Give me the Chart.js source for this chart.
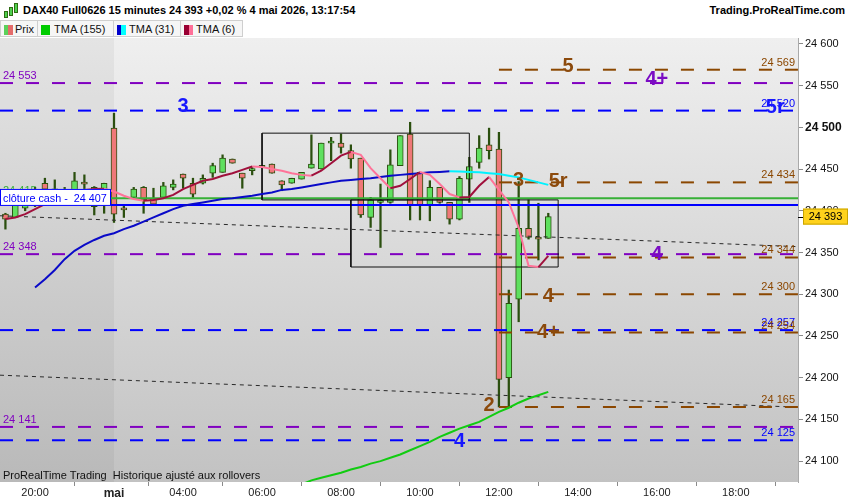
<!DOCTYPE html>
<html>
<head>
<meta charset="utf-8">
<script src="https://cdn.jsdelivr.net/npm/chart.js@4.4.1/dist/chart.umd.min.js"></script>
<style>
  body { margin: 0; width: 850px; height: 500px; overflow: hidden; background: #fff; font-family: "Liberation Sans", Arial, sans-serif; }
  #hdr { position: absolute; left: 0; top: 0; width: 850px; height: 21px; background: #fff; }
  #hdr .ico { position: absolute; left: 3px; top: 2px; width: 16px; height: 17px; }
  #hdr .ico i { position: absolute; width: 2px; background: #4ed14e; border: 1px solid #2e6b12; }
  #ttl { position: absolute; left: 23px; top: 4px; font-weight: bold; font-size: 11px; color: #000; white-space: pre; }
  #site { position: absolute; right: 5px; top: 4px; font-weight: bold; font-size: 11px; color: #000; }
  #tabs { position: absolute; left: 0; top: 20px; width: 850px; height: 18px; }
  .tab { position: absolute; top: 0; height: 17px; background: #f6f6f6; border: 1px solid #cfcfcf; border-left: none; box-sizing: border-box; font-size: 11px; color: #111; line-height: 16px; white-space: pre; }
  .tab .sw { position: absolute; left: 3px; top: 4px; width: 9px; height: 10px; }
  .tab span { position: absolute; top: 0; }
  #c { position: absolute; left: 0; top: 38px; }
</style>
</head>
<body>
<div id="hdr">
  <div class="ico">
    <i style="left:1px;top:9px;height:5px"></i>
    <i style="left:6px;top:5px;height:7px"></i>
    <i style="left:11px;top:1px;height:8px"></i>
  </div>
  <span id="ttl">DAX40 Full0626 15 minutes 24 393 +0,02 % 4 mai 2026, 13:17:54</span>
  <span id="site">Trading.ProRealTime.com</span>
</div>
<div id="tabs">
  <div class="tab" style="left:0;width:38px;border-left:1px solid #cfcfcf"><b class="sw" style="background:linear-gradient(90deg,#5bd05b 50%,#e46b6b 50%)"></b><span style="left:14px">Prix</span></div>
  <div class="tab" style="left:38px;width:76px"><b class="sw" style="background:#00cc00"></b><span style="left:16px">TMA (155)</span></div>
  <div class="tab" style="left:114px;width:67px"><b class="sw" style="background:linear-gradient(90deg,#0000cc 50%,#00ffff 50%)"></b><span style="left:15px">TMA (31)</span></div>
  <div class="tab" style="left:181px;width:62px"><b class="sw" style="background:linear-gradient(90deg,#990033 50%,#ff6f98 50%)"></b><span style="left:15px">TMA (6)</span></div>
</div>
<canvas id="c" width="850" height="462"></canvas>
<script>
// 15-minute bars: end of the previous session, then 4 May
const barTimes = [
  '19:15','19:30','19:45','20:00','20:15','20:30','20:45','21:00','21:15','21:30','21:45',
  '02:15','02:30','02:45','03:00','03:15','03:30','03:45','04:00','04:15','04:30','04:45',
  '05:00','05:15','05:30','05:45','06:00','06:15','06:30','06:45','07:00','07:15','07:30',
  '07:45','08:00','08:15','08:30','08:45','09:00','09:15','09:30','09:45','10:00','10:15',
  '10:30','10:45','11:00','11:15','11:30','11:45','12:00','12:15','12:30','12:45','13:00','13:15'
];
const prevSessionBars = 11;

const opens  = [24396,24392,24403,24410,24433,24426,24420,24425,24434,24428,24409,
  24499,24403,24416,24428,24415,24416,24428,24444,24433,24433,24445,24446,24462,24445,24448,
  24452,24456,24436,24433,24438,24451,24450,24481,24481,24472,24463,24392,24410,24410,24454,
  24492,24446,24407,24428,24410,24390,24438,24458,24479,24474,24200,24294,24379,24368,24367];
const highs  = [24397,24410,24416,24428,24439,24437,24428,24446,24443,24429,24433,
  24517,24406,24428,24429,24427,24434,24437,24444,24439,24443,24457,24467,24462,24445,24453,
  24454,24456,24436,24439,24446,24491,24481,24488,24492,24479,24463,24416,24432,24473,24490,
  24506,24446,24436,24428,24410,24441,24464,24490,24499,24494,24305,24435,24413,24409,24397];
const lows   = [24378,24392,24400,24405,24418,24416,24412,24418,24425,24395,24397,
  24386,24392,24415,24397,24408,24416,24425,24427,24416,24432,24440,24446,24457,24427,24443,
  24452,24445,24424,24433,24438,24451,24450,24460,24469,24451,24392,24380,24356,24409,24454,
  24389,24389,24388,24409,24384,24389,24410,24451,24462,24165,24166,24267,24366,24341,24367];
const closes = [24390,24407,24412,24420,24426,24424,24424,24436,24432,24405,24433,
  24396,24401,24426,24413,24408,24430,24432,24439,24420,24439,24454,24463,24457,24439,24448,
  24454,24445,24431,24439,24446,24456,24481,24481,24476,24462,24395,24413,24412,24455,24490,
  24407,24407,24428,24410,24390,24439,24453,24475,24472,24198,24289,24379,24368,24366,24393];

const tma6 = [24390,24392,24396,24402,24408,24414,24419,24422,24425,24426,24426.5,
  24423,24418,24414,24412,24413,24415,24419,24426,24431,24436,24438,24442,24445,24449,24453,
  24452.5,24450,24448,24445,24443,24442,24448,24457,24466,24470.5,24467,24451,24439,24427,24430,
  24438,24446.5,24443,24432,24420,24416,24416.5,24430,24440.5,24425,24410,24380,24334,24332.5,24346];
const tma31 = [null,null,null,24308,24318,24329,24342,24352,24359,24365,24370,
  24373,24378,24382,24387,24392,24397,24402,24406,24408,24410,24412,24414,24415,24416.5,24418,
  24420,24422,24425,24426,24428,24430,24432,24434,24436,24437,24438,24439,24440.5,24442,24443,
  24444,24445,24446,24446.5,24447.2,24447,24446.5,24446,24445,24444,24442,24440,24437,24434,24431];
const tma155 = [null,null,null,null,null,null,null,null,null,null,null,
  null,null,null,null,null,null,null,null,null,null,null,null,null,null,null,
  null,null,null,null,24072,24077,24080,24083,24086,24090,24093,24097,24100,24104,24108,
  24113,24118,24123,24129,24134,24139,24143,24147,24153,24159,24164,24170,24175,24179,24183];

// horizontal levels
const levelPurple = [24553, 24348, 24141];
const levelBlue = [24520, 24257, 24125];
const levelBrown = [24569, 24434, 24344, 24300, 24254, 24165];
const brownFromBar = 39;
const levelGreen = 24415;
const cashClose = 24407;
const lastPrice = 24393;

// dotted trend lines, price at the left and right edges
const trendUpper = [24394, 24357];
const trendLower = [24203, 24164.6];

// rectangles (bar index range, price range)
const boxAX = [15, 36], boxAY = [24413, 24493];
const boxBX = [24, 45], boxBY = [24332.6, 24413];

// big wave labels
const markText  = ['3', '5', '4+', '3', '5r', '5r', '4', '4', '4+', '2', '4'];
const markBar   = [7, 46, 55, 41, 45, 67, 55, 44, 44, 38, 35];
const markPrice = [24526, 24574, 24559, 24438, 24436, 24525, 24349, 24299, 24255, 24168, 24125];
const markKind  = ['blue', 'brown', 'purple', 'brown', 'brown', 'blue', 'purple', 'brown', 'brown', 'brown', 'blue'];

// axes
const xTickPos = [-8, 0, 7, 15, 23, 31, 39, 47, 55, 63];
const xTickText = ['20:00', 'mai', '04:00', '06:00', '08:00', '10:00', '12:00', '14:00', '16:00', '18:00'];
const yTickVals = [24100, 24150, 24200, 24250, 24300, 24350, 24400, 24450, 24500, 24550, 24600];
const xMin = -11.55, xMax = 69.3;
const yMin = 24075, yMax = 24607;

const col = { blue: '#0000ff', purple: '#8000c0', brown: '#8b4700', green: '#36b036' };
const markCol = { blue: '#1717ff', purple: '#7a0cc4', brown: '#8c4a0c' };
const FONT = '"Liberation Sans", Arial, sans-serif';
const fmt = v => String(Math.round(v)).replace(/\B(?=(\d{3})+(?!\d))/g, ' ');

const barX = barTimes.map((t, k) => k - prevSessionBars);
const pts = arr => barX.map((x, k) => ({ x, y: arr[k] }));
const candleEdge = '#2b4f0f';

function hLine(v, from, color, dash, width) {
  return {
    type: 'line', data: [{ x: from, y: v }, { x: xMax, y: v }],
    borderColor: color, borderWidth: width, borderDash: dash,
    pointRadius: 0, clip: 0, order: 4
  };
}
function rect(xs, ys) {
  return {
    type: 'line',
    data: [{ x: xs[0], y: ys[0] }, { x: xs[1], y: ys[0] }, { x: xs[1], y: ys[1] }, { x: xs[0], y: ys[1] }, { x: xs[0], y: ys[0] }],
    borderColor: '#111', borderWidth: 1, pointRadius: 0, clip: 0, order: 3
  };
}

const datasets = [
  {
    type: 'bar', data: barX.map((x, k) => ({ x, y: [lows[k], highs[k]] })),
    backgroundColor: candleEdge, barThickness: 1.6, grouped: false, order: 20
  },
  {
    type: 'bar', data: barX.map((x, k) => ({ x, y: [opens[k], closes[k]] })),
    backgroundColor: barX.map((x, k) => closes[k] >= opens[k] ? '#5fe05f' : '#ef7878'),
    borderColor: candleEdge, borderWidth: 1, borderSkipped: false,
    barThickness: 6, minBarLength: 2, grouped: false, order: 19
  }
];
levelPurple.forEach(v => datasets.push(hLine(v, xMin, col.purple, [13, 13], 2)));
levelBlue.forEach(v => datasets.push(hLine(v, xMin, col.blue, [13, 13], 2)));
levelBrown.forEach(v => datasets.push(hLine(v, brownFromBar, col.brown, [13, 13], 2)));
datasets.push(hLine(levelGreen, xMin, col.green, [], 2));
datasets.push(hLine(cashClose, xMin, col.blue, [], 2));
datasets.push({
  type: 'line', data: [{ x: xMin, y: trendUpper[0] }, { x: xMax, y: trendUpper[1] }],
  borderColor: '#2a2a2a', borderWidth: 1, borderDash: [4, 4], pointRadius: 0, clip: 0, order: 4
});
datasets.push({
  type: 'line', data: [{ x: xMin, y: trendLower[0] }, { x: xMax, y: trendLower[1] }],
  borderColor: '#2a2a2a', borderWidth: 1, borderDash: [4, 4], pointRadius: 0, clip: 0, order: 4
});
datasets.push(rect(boxAX, boxAY));
datasets.push(rect(boxBX, boxBY));
datasets.push({
  type: 'line', data: pts(tma155), borderColor: '#11cc11', borderWidth: 2,
  pointRadius: 0, clip: 0, order: 2
});
datasets.push({
  type: 'line', data: pts(tma31), borderColor: '#0a0ac8', borderWidth: 2,
  segment: { borderColor: c => c.p1.parsed.y < c.p0.parsed.y ? '#00f2ff' : '#0a0ac8' },
  pointRadius: 0, clip: 0, order: 1
});
datasets.push({
  type: 'line', data: pts(tma6), borderColor: '#a0103c', borderWidth: 2,
  segment: { borderColor: c => c.p1.parsed.y < c.p0.parsed.y ? '#ff7399' : '#a0103c' },
  pointRadius: 0, clip: 0, order: 0
});

const backdrop = {
  id: 'backdrop',
  beforeDraw(chart) {
    const { ctx, chartArea: a, scales } = chart;
    ctx.save();
    ctx.fillStyle = '#fff';
    ctx.fillRect(0, 0, chart.width, chart.height);
    const g = ctx.createLinearGradient(0, a.top, 0, a.bottom);
    g.addColorStop(0, '#efefef');
    g.addColorStop(1, '#c2c2c2');
    ctx.fillStyle = g;
    ctx.fillRect(a.left, a.top, a.right - a.left, a.bottom - a.top);
    ctx.fillStyle = 'rgba(0,0,0,0.045)';
    const xs = scales.x.getPixelForValue(0);
    ctx.fillRect(a.left, a.top, xs - a.left, a.bottom - a.top);
    ctx.restore();
  }
};

const overlay = {
  id: 'overlay',
  afterDatasetsDraw(chart) {
    const { ctx, chartArea: a, scales } = chart;
    const px = v => scales.x.getPixelForValue(v);
    const py = v => scales.y.getPixelForValue(v);
    ctx.save();
    ctx.font = '11px ' + FONT;
    ctx.textBaseline = 'alphabetic';
    // value labels on the levels
    ctx.textAlign = 'left';
    ctx.fillStyle = col.purple;
    levelPurple.forEach(v => ctx.fillText(fmt(v), a.left + 3, py(v) - 4));
    ctx.fillStyle = col.green;
    ctx.fillText(fmt(levelGreen), a.left + 3, py(levelGreen) - 4);
    ctx.textAlign = 'right';
    ctx.fillStyle = col.blue;
    levelBlue.forEach(v => ctx.fillText(fmt(v), a.right - 3, py(v) - 4));
    ctx.fillStyle = col.brown;
    levelBrown.forEach(v => ctx.fillText(fmt(v), a.right - 3, py(v) - 4));

    // cash close tag
    const yc = py(cashClose);
    const tag = 'clôture cash -  ' + fmt(cashClose);
    ctx.font = '12px ' + FONT;
    const tw = ctx.measureText(tag).width;
    if (tw > 104) ctx.font = (12 * 104 / tw).toFixed(2) + 'px ' + FONT;
    ctx.fillStyle = '#fff';
    ctx.fillRect(a.left, yc - 16, 111, 17);
    ctx.strokeStyle = col.blue;
    ctx.lineWidth = 1;
    ctx.strokeRect(a.left + 0.5, yc - 15.5, 110, 16);
    ctx.fillStyle = col.blue;
    ctx.textAlign = 'left';
    ctx.fillText(tag, a.left + 3, yc - 3);

    // wave labels
    ctx.font = 'bold 20px ' + FONT;
    ctx.textAlign = 'center';
    ctx.textBaseline = 'middle';
    markText.forEach((t, k) => {
      ctx.fillStyle = markCol[markKind[k]];
      ctx.fillText(t, px(markBar[k]), py(markPrice[k]) + 1);
    });

    // footer
    ctx.font = '11px ' + FONT;
    ctx.textAlign = 'left';
    ctx.textBaseline = 'alphabetic';
    ctx.fillStyle = '#111';
    ctx.fillText('ProRealTime Trading  Historique ajusté aux rollovers', a.left + 3, a.bottom - 3);
    ctx.restore();
  },
  afterDraw(chart) {
    const { ctx, chartArea: a, scales } = chart;
    const y = scales.y.getPixelForValue(lastPrice);
    ctx.save();
    ctx.strokeStyle = '#000';
    ctx.lineWidth = 1;
    ctx.beginPath();
    ctx.moveTo(a.right, Math.round(y) + 0.5);
    ctx.lineTo(a.right + 5, Math.round(y) + 0.5);
    ctx.stroke();
    ctx.fillStyle = '#ffd21c';
    ctx.fillRect(a.right + 5, y - 8, 45, 16);
    ctx.strokeStyle = '#c9a400';
    ctx.strokeRect(a.right + 5.5, y - 7.5, 44, 15);
    ctx.fillStyle = '#000';
    ctx.font = '11px ' + FONT;
    ctx.textAlign = 'center';
    ctx.textBaseline = 'middle';
    ctx.fillText(fmt(lastPrice), a.right + 27.5, y + 0.5);
    ctx.restore();
  }
};

new Chart(document.getElementById('c'), {
  type: 'bar',
  data: { datasets },
  options: {
    responsive: false,
    animation: false,
    events: [],
    layout: { padding: 0 },
    plugins: { legend: { display: false }, tooltip: { enabled: false } },
    scales: {
      x: {
        type: 'linear', min: xMin, max: xMax, offset: false,
        grid: { drawOnChartArea: false, drawTicks: true, tickLength: 4, color: '#8a8a8a' },
        border: { display: false },
        ticks: {
          autoSkip: false, maxRotation: 0, padding: 0, color: '#222',
          font: c => (c.tick && c.tick.value === 0) ? { family: FONT, size: 12, weight: 'bold' } : { family: FONT, size: 11 },
          callback: (v, i) => xTickText[i]
        },
        afterBuildTicks: s => { s.ticks = xTickPos.map(v => ({ value: v })); },
        afterFit: s => { s.height = 18; s.paddingLeft = 0; s.paddingRight = 0; }
      },
      y: {
        type: 'linear', position: 'right', min: yMin, max: yMax,
        grid: { drawOnChartArea: false, drawTicks: true, tickLength: 5, color: '#8a8a8a' },
        border: { display: true, color: '#a9a9a9' },
        ticks: {
          padding: 2, color: '#111',
          font: c => (c.tick && c.tick.value === 24500) ? { family: FONT, size: 12, weight: 'bold' } : { family: FONT, size: 11 },
          callback: v => fmt(v)
        },
        afterBuildTicks: s => { s.ticks = yTickVals.map(v => ({ value: v })); },
        afterFit: s => { s.width = 52; s.paddingTop = 0; s.paddingBottom = 0; }
      }
    }
  },
  plugins: [backdrop, overlay]
});
</script>
</body>
</html>
